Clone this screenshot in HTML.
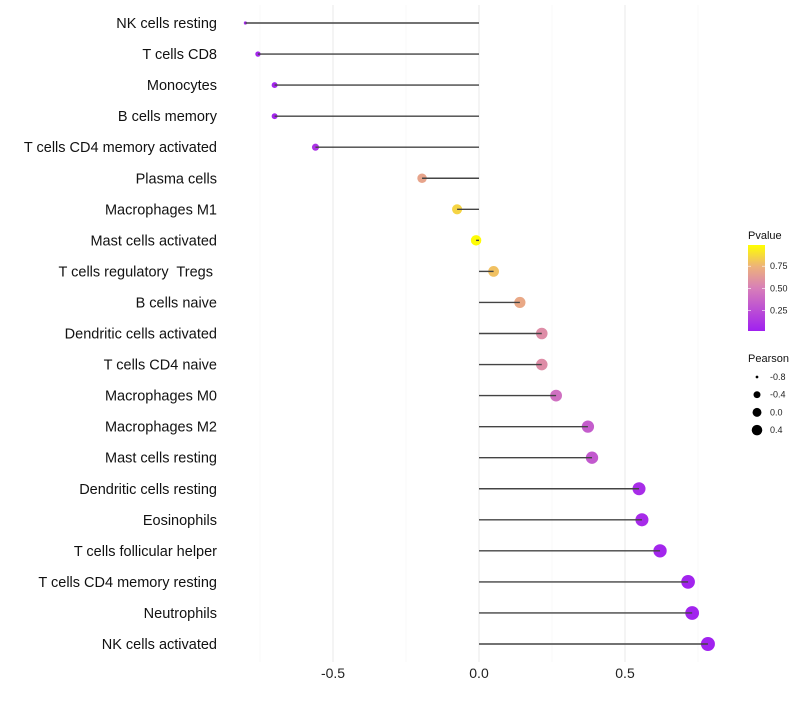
<!DOCTYPE html>
<html><head><meta charset="utf-8"><style>
body{margin:0;background:#fff;font-family:"Liberation Sans",sans-serif}
</style></head><body>
<svg id="c" width="800" height="700" xmlns="http://www.w3.org/2000/svg">
<defs><linearGradient id="pg" x1="0" y1="1" x2="0" y2="0">
<stop offset="0" stop-color="#A020F0"/><stop offset="0.5" stop-color="#D87FB8"/><stop offset="0.75" stop-color="#EDB27A"/><stop offset="1" stop-color="#FFFF00"/></linearGradient></defs>
</svg>
<script>
const categories=["NK cells resting","T cells CD8","Monocytes","B cells memory","T cells CD4 memory activated","Plasma cells","Macrophages M1","Mast cells activated","T cells regulatory  Tregs ","B cells naive","Dendritic cells activated","T cells CD4 naive","Macrophages M0","Macrophages M2","Mast cells resting","Dendritic cells resting","Eosinophils","T cells follicular helper","T cells CD4 memory resting","Neutrophils","NK cells activated"];
const pearson=[-0.80,-0.757,-0.70,-0.70,-0.56,-0.195,-0.075,-0.01,0.05,0.14,0.215,0.215,0.264,0.373,0.387,0.548,0.558,0.62,0.716,0.73,0.784];
const pvalues=[0.04,0.04,0.03,0.03,0.1,0.68,0.86,0.99,0.8,0.7,0.57,0.57,0.42,0.32,0.3,0.07,0.06,0.03,0.02,0.02,0.01];
const xTicks=[-0.5,0.0,0.5];
const xTickLabels=["-0.5","0.0","0.5"];
const sizeLegend=[-0.8,-0.4,0.0,0.4];
const pTicks=[0.25,0.5,0.75];
const NS="http://www.w3.org/2000/svg",svg=document.getElementById('c');
const X=v=>479+v*292, Y=i=>23+i*31.05;
const R=v=>v<=-0.79?1.6:Math.sqrt(6+27*(v+0.8));
const PY=p=>331-(p-0.017)/(0.99-0.017)*86;
function mk(t,a,txt){const e=document.createElementNS(NS,t);for(const k in a)e.setAttribute(k,a[k]);if(txt!==undefined)e.textContent=txt;svg.appendChild(e);return e;}
function lerp(a,b,t){return a.map((x,i)=>Math.round(x+(b[i]-x)*t));}
function col(p){const s=[[0,[160,32,240]],[0.5,[216,127,184]],[0.75,[237,178,122]],[1,[255,255,0]]];p=Math.max(0,Math.min(1,p));for(let i=1;i<s.length;i++)if(p<=s[i][0]){const c=lerp(s[i-1][1],s[i][1],(p-s[i-1][0])/(s[i][0]-s[i-1][0]));return `rgb(${c})`;}return 'rgb(255,255,0)';}
[-0.75,-0.25,0.25,0.75].forEach(v=>{const l=mk('line',{x1:X(v),x2:X(v),y1:5,y2:662,stroke:'#f4f4f4','stroke-width':0.6});});
xTicks.forEach((v,i)=>{const l=mk('line',{x1:X(v),x2:X(v),y1:5,y2:662,stroke:'#ebebeb','stroke-width':1.1});
const t=mk('text',{x:X(v),y:678,'text-anchor':'middle','font-size':14,fill:'#222'},xTickLabels[i]);});
categories.forEach((c,i)=>{
const t=mk('text',{x:217,y:Y(i)+5,'text-anchor':'end','font-size':14.5,fill:'#111','xml:space':'preserve'},c);t.style.whiteSpace='pre';
const d=mk('circle',{cx:X(pearson[i]),cy:Y(i),r:R(pearson[i]),fill:col(pvalues[i])});
const l=mk('line',{x1:X(0),x2:X(pearson[i]),y1:Y(i),y2:Y(i),stroke:'#444','stroke-width':1.4});
});
let t=mk('text',{x:748,y:239,'font-size':11,fill:'#111'},'Pvalue');
let r=mk('rect',{x:748,y:245,width:17,height:86,fill:'url(#pg)'});
pTicks.forEach(p=>{const y=PY(p);mk('line',{x1:748,x2:751,y1:y,y2:y,stroke:'#fff','stroke-width':0.6});mk('line',{x1:762,x2:765,y1:y,y2:y,stroke:'#fff','stroke-width':0.6});
const tt=mk('text',{x:770,y:y+3,'font-size':9,fill:'#222'},p.toFixed(2));});
t=mk('text',{x:748,y:362,'font-size':11,fill:'#111'},'Pearson');
sizeLegend.forEach((v,i)=>{const y=377+i*17.7;const c=mk('circle',{cx:757,cy:y,r:R(v)*0.85,fill:'#000'});
const tt=mk('text',{x:770,y:y+3,'font-size':9,fill:'#222'},v.toFixed(1));});
</script>
</body></html>
